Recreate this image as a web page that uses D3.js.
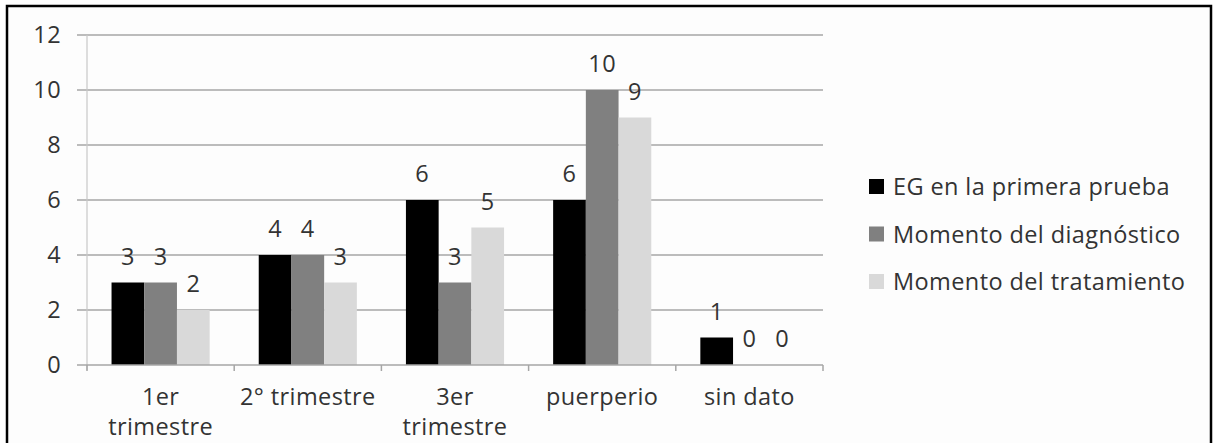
<!DOCTYPE html>
<html><head><meta charset="utf-8">
<script src="https://cdn.jsdelivr.net/npm/d3@7"></script>
<style>
html,body{margin:0;padding:0;background:#fff;}
svg{display:block;}
text{font-family:"Open Sans",sans-serif;fill:#333;letter-spacing:0.4px;}
</style></head>
<body><svg id="c" width="1213" height="443"></svg>
<script>
const categories = ["1er\ntrimestre", "2° trimestre", "3er\ntrimestre", "puerperio", "sin dato"];
const seriesNames = ["EG en la primera prueba", "Momento del diagnóstico", "Momento del tratamiento"];
const egPrimeraPrueba = [3, 4, 6, 6, 1];
const momentoDiagnostico = [3, 4, 3, 10, 0];
const momentoTratamiento = [2, 3, 5, 9, 0];
const yTicks = [0, 2, 4, 6, 8, 10, 12];
const colors = ["#000000", "#808080", "#d9d9d9"];

const series = [egPrimeraPrueba, momentoDiagnostico, momentoTratamiento];
const svg = d3.select("#c");
const FS = 23.5;

// frame
svg.append("rect").attr("x", 7).attr("y", 6).attr("width", 1204).attr("height", 450)
  .attr("fill", "#fdfdfd").attr("stroke", "#000").attr("stroke-width", 2.5);

const x0 = d3.scaleBand().domain(categories).range([87, 823]).paddingInner(0).paddingOuter(0);
const x1 = d3.scaleBand().domain(d3.range(series.length)).range([0, x0.bandwidth()]).paddingInner(0).paddingOuter(0.75);
const y = d3.scaleLinear().domain([0, 12]).range([365, 35]);

// gridlines
svg.append("g").selectAll("line").data(yTicks.filter(t => t > 0)).join("line")
  .attr("x1", 77).attr("x2", 823).attr("y1", d => y(d)).attr("y2", d => y(d))
  .attr("stroke", "#a6a6a6").attr("stroke-width", 1.5);

// y axis line
svg.append("line").attr("x1", 87).attr("x2", 87).attr("y1", 35).attr("y2", 370)
  .attr("stroke", "#c8c8c8").attr("stroke-width", 1.2);

// y tick labels
svg.append("g").selectAll("text").data(yTicks).join("text")
  .attr("x", 61).attr("y", d => y(d)).attr("dy", "0.35em").attr("text-anchor", "end")
  .attr("font-size", FS).text(d => d);

// bars
const groups = svg.append("g").selectAll("g").data(categories).join("g")
  .attr("transform", c => `translate(${x0(c)},0)`);
groups.selectAll("rect").data((c, i) => series.map((s, k) => ({k, v: s[i]}))).join("rect")
  .attr("x", d => x1(d.k)).attr("width", x1.bandwidth())
  .attr("y", d => y(d.v)).attr("height", d => y(0) - y(d.v))
  .attr("fill", d => colors[d.k]);
groups.selectAll("text").data((c, i) => series.map((s, k) => ({k, v: s[i]}))).join("text")
  .attr("x", d => x1(d.k) + x1.bandwidth() / 2).attr("y", d => y(d.v) - 18)
  .attr("text-anchor", "middle").attr("font-size", FS).text(d => d.v);

// x axis
const xa = svg.append("g");
xa.append("line").attr("x1", 77).attr("x2", 823).attr("y1", y(0)).attr("y2", y(0))
  .attr("stroke", "#a6a6a6").attr("stroke-width", 1.5);
const bounds = categories.map(c => x0(c)).concat([x0.range()[1]]);
xa.selectAll("line.tk").data(bounds).join("line").attr("class", "tk")
  .attr("x1", d => d).attr("x2", d => d).attr("y1", y(0)).attr("y2", y(0) + 6)
  .attr("stroke", "#a6a6a6").attr("stroke-width", 1.5);
const cl = xa.selectAll("text").data(categories).join("text")
  .attr("x", c => x0(c) + x0.bandwidth() / 2).attr("y", 405)
  .attr("text-anchor", "middle").attr("font-size", FS);
cl.selectAll("tspan").data(c => c.split("\n")).join("tspan")
  .attr("x", function() { return this.parentNode.getAttribute("x"); })
  .attr("dy", (d, i) => i === 0 ? 0 : 30).text(d => d);

// legend
const lg = svg.append("g").selectAll("g").data(seriesNames).join("g")
  .attr("transform", (d, i) => `translate(869,${187 + i * 47.5})`);
lg.append("rect").attr("x", 0).attr("y", -8).attr("width", 15).attr("height", 15)
  .attr("fill", (d, i) => colors[i]);
lg.append("text").attr("x", 24).attr("y", 0).attr("dy", "0.35em").attr("font-size", FS).text(d => d);
</script></body></html>
